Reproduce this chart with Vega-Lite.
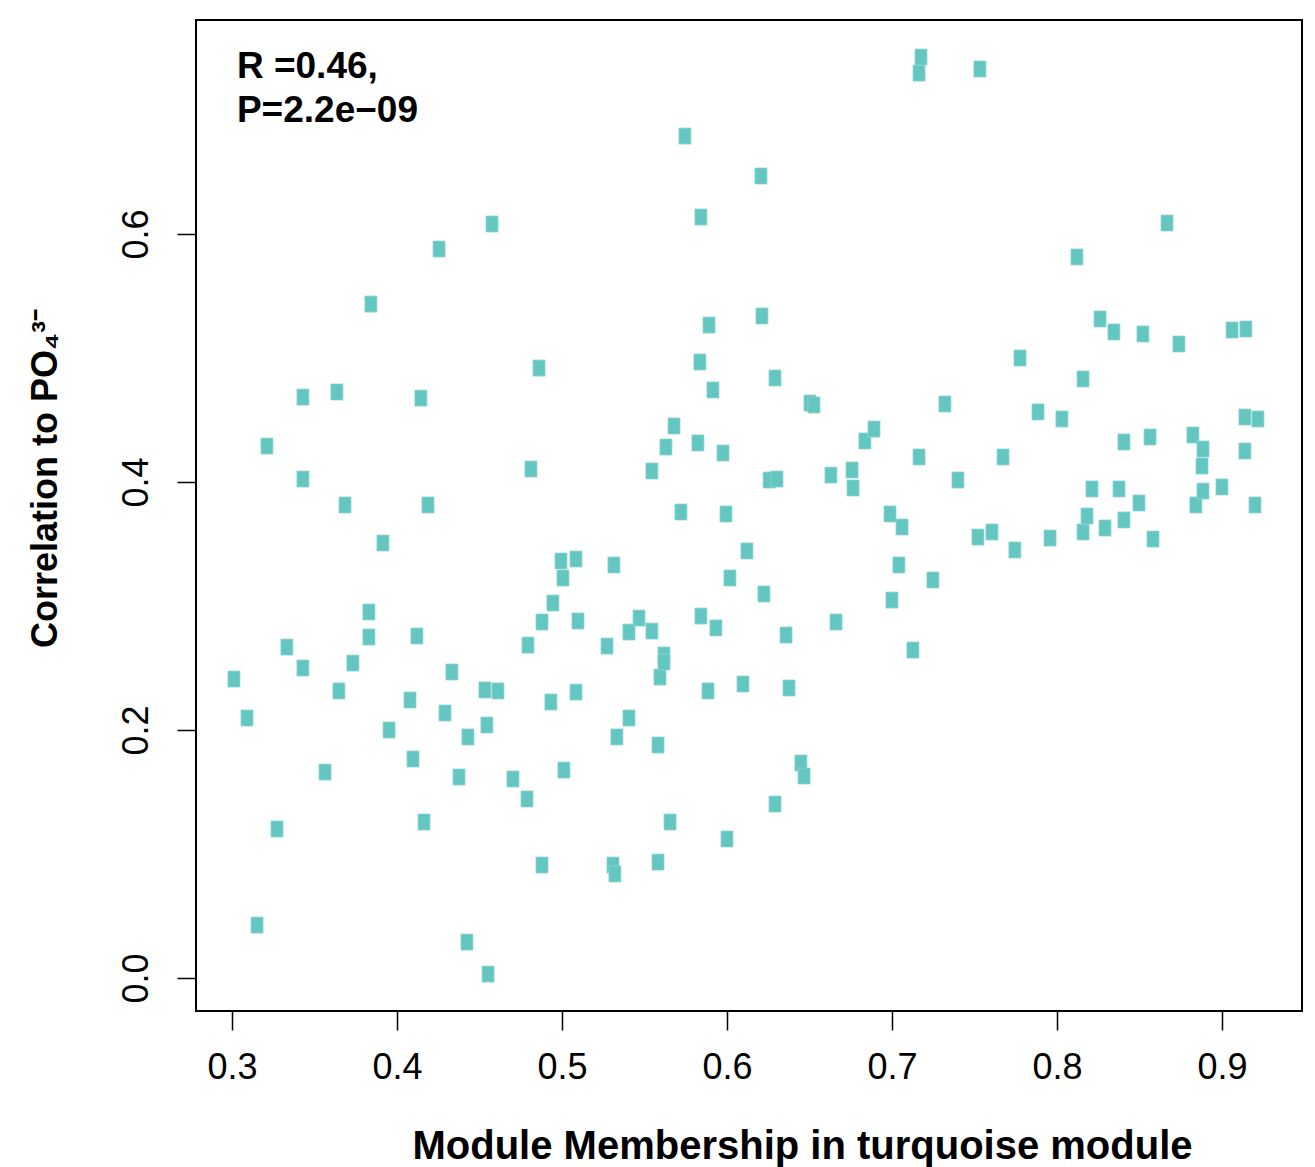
{
  "$schema": "https://vega.github.io/schema/vega-lite/v6.json",
  "width": 1106,
  "height": 991,
  "autosize": {"type": "none"},
  "padding": {"left": 196, "top": 20, "right": 13, "bottom": 156},
  "background": "white",
  "config": {"view": {"stroke": "black", "strokeWidth": 2}, "font": "Liberation Sans"},
  "datasets": {
    "pts": [
      {"mm":0.3012,"cor":0.2411},{"mm":0.3091,"cor":0.2097},{"mm":0.3152,"cor":0.0427},{"mm":0.3212,"cor":0.4290},
      {"mm":0.3273,"cor":0.1202},{"mm":0.3333,"cor":0.2669},{"mm":0.3430,"cor":0.4685},{"mm":0.3430,"cor":0.4024},
      {"mm":0.3430,"cor":0.2500},{"mm":0.3564,"cor":0.1661},{"mm":0.3636,"cor":0.4726},{"mm":0.3648,"cor":0.2315},
      {"mm":0.3685,"cor":0.3815},{"mm":0.3733,"cor":0.2540},{"mm":0.3830,"cor":0.2952},{"mm":0.3830,"cor":0.2750},
      {"mm":0.3842,"cor":0.5435},{"mm":0.3915,"cor":0.3508},{"mm":0.3952,"cor":0.2000},{"mm":0.4079,"cor":0.2242},
      {"mm":0.4097,"cor":0.1766},{"mm":0.4121,"cor":0.2758},{"mm":0.4145,"cor":0.4677},{"mm":0.4164,"cor":0.1258},
      {"mm":0.4188,"cor":0.3815},{"mm":0.4255,"cor":0.5879},{"mm":0.4291,"cor":0.2137},{"mm":0.4333,"cor":0.2468},
      {"mm":0.4376,"cor":0.1621},{"mm":0.4424,"cor":0.0290},{"mm":0.4430,"cor":0.1944},{"mm":0.4533,"cor":0.2323},
      {"mm":0.4545,"cor":0.2040},{"mm":0.4552,"cor":0.0032},{"mm":0.4576,"cor":0.6081},{"mm":0.4612,"cor":0.2315},
      {"mm":0.4703,"cor":0.1605},{"mm":0.4788,"cor":0.1444},{"mm":0.4794,"cor":0.2685},{"mm":0.4812,"cor":0.4105},
      {"mm":0.4861,"cor":0.4919},{"mm":0.4879,"cor":0.2871},{"mm":0.4879,"cor":0.0911},{"mm":0.4933,"cor":0.2226},
      {"mm":0.4945,"cor":0.3024},{"mm":0.4994,"cor":0.3363},{"mm":0.5006,"cor":0.3226},{"mm":0.5012,"cor":0.1677},
      {"mm":0.5085,"cor":0.3379},{"mm":0.5085,"cor":0.2306},{"mm":0.5097,"cor":0.2879},{"mm":0.5273,"cor":0.2677},
      {"mm":0.5309,"cor":0.0911},{"mm":0.5315,"cor":0.3331},{"mm":0.5321,"cor":0.0839},{"mm":0.5333,"cor":0.1944},
      {"mm":0.5406,"cor":0.2097},{"mm":0.5406,"cor":0.2790},{"mm":0.5467,"cor":0.2903},{"mm":0.5545,"cor":0.4089},
      {"mm":0.5545,"cor":0.2798},{"mm":0.5582,"cor":0.1879},{"mm":0.5582,"cor":0.0935},{"mm":0.5594,"cor":0.2427},
      {"mm":0.5618,"cor":0.2605},{"mm":0.5618,"cor":0.2548},{"mm":0.5630,"cor":0.4282},{"mm":0.5655,"cor":0.1258},
      {"mm":0.5679,"cor":0.4452},{"mm":0.5721,"cor":0.3758},{"mm":0.5745,"cor":0.6790},{"mm":0.5824,"cor":0.4315},
      {"mm":0.5836,"cor":0.4968},{"mm":0.5842,"cor":0.2919},{"mm":0.5842,"cor":0.6137},{"mm":0.5885,"cor":0.2315},
      {"mm":0.5891,"cor":0.5266},{"mm":0.5915,"cor":0.4742},{"mm":0.5933,"cor":0.2823},{"mm":0.5976,"cor":0.4234},
      {"mm":0.5994,"cor":0.3742},{"mm":0.6000,"cor":0.1121},{"mm":0.6018,"cor":0.3226},{"mm":0.6097,"cor":0.2371},
      {"mm":0.6121,"cor":0.3444},{"mm":0.6206,"cor":0.6468},{"mm":0.6212,"cor":0.5339},{"mm":0.6224,"cor":0.3097},
      {"mm":0.6255,"cor":0.4016},{"mm":0.6303,"cor":0.4024},{"mm":0.6291,"cor":0.4839},{"mm":0.6291,"cor":0.1403},
      {"mm":0.6358,"cor":0.2766},{"mm":0.6376,"cor":0.2339},{"mm":0.6448,"cor":0.1734},{"mm":0.6467,"cor":0.1629},
      {"mm":0.6503,"cor":0.4637},{"mm":0.6527,"cor":0.4621},{"mm":0.6630,"cor":0.4056},{"mm":0.6661,"cor":0.2871},
      {"mm":0.6758,"cor":0.4097},{"mm":0.6764,"cor":0.3952},{"mm":0.6836,"cor":0.4331},{"mm":0.6891,"cor":0.4427},
      {"mm":0.6988,"cor":0.3742},{"mm":0.7000,"cor":0.3048},{"mm":0.7042,"cor":0.3331},{"mm":0.7061,"cor":0.3637},
      {"mm":0.7127,"cor":0.2645},{"mm":0.7164,"cor":0.4202},{"mm":0.7164,"cor":0.7298},{"mm":0.7176,"cor":0.7427},
      {"mm":0.7248,"cor":0.3210},{"mm":0.7321,"cor":0.4629},{"mm":0.7400,"cor":0.4016},{"mm":0.7533,"cor":0.7331},
      {"mm":0.7521,"cor":0.3556},{"mm":0.7606,"cor":0.3597},{"mm":0.7673,"cor":0.4202},{"mm":0.7745,"cor":0.3452},
      {"mm":0.7776,"cor":0.5000},{"mm":0.7885,"cor":0.4565},{"mm":0.7958,"cor":0.3548},{"mm":0.8030,"cor":0.4508},
      {"mm":0.8121,"cor":0.5815},{"mm":0.8158,"cor":0.4831},{"mm":0.8158,"cor":0.3597},{"mm":0.8182,"cor":0.3726},
      {"mm":0.8212,"cor":0.3944},{"mm":0.8261,"cor":0.5315},{"mm":0.8291,"cor":0.3629},{"mm":0.8345,"cor":0.5210},
      {"mm":0.8376,"cor":0.3944},{"mm":0.8406,"cor":0.4323},{"mm":0.8406,"cor":0.3694},{"mm":0.8497,"cor":0.3831},
      {"mm":0.8521,"cor":0.5194},{"mm":0.8564,"cor":0.4363},{"mm":0.8582,"cor":0.3540},{"mm":0.8667,"cor":0.6089},
      {"mm":0.8739,"cor":0.5113},{"mm":0.8824,"cor":0.4379},{"mm":0.8842,"cor":0.3815},{"mm":0.8885,"cor":0.4266},
      {"mm":0.8879,"cor":0.4129},{"mm":0.8885,"cor":0.3927},{"mm":0.9000,"cor":0.3960},{"mm":0.9061,"cor":0.5226},
      {"mm":0.9145,"cor":0.5234},{"mm":0.9139,"cor":0.4524},{"mm":0.9139,"cor":0.4250},{"mm":0.9200,"cor":0.3815},
      {"mm":0.9218,"cor":0.4508}
    ],
    "ann": [{"x": 0.303, "y": 0.7258, "label": "R =0.46,\nP=2.2e−09"}]
  },
  "layer": [
    {
      "data": {"name": "pts"},
      "mark": {"type": "point", "shape": "M-0.75,-1L0.75,-1L0.75,1L-0.75,1Z", "size": 256, "filled": true, "color": "#63C6C1", "opacity": 1, "stroke": "#8fd6d2", "strokeWidth": 0.8},
      "encoding": {
        "x": {
          "field": "mm", "type": "quantitative",
          "scale": {"domain": [0.2782, 0.9485], "nice": false, "zero": false},
          "axis": {
            "title": "Module Membership in turquoise module",
            "values": [0.3, 0.4, 0.5, 0.6, 0.7, 0.8, 0.9],
            "format": ".1f",
            "domain": false, "grid": false,
            "ticks": true, "tickSize": 19, "tickWidth": 1.5, "tickColor": "black",
            "labelFontSize": 36, "labelColor": "black", "labelPadding": 20, "labelFlush": false, "labelOverlap": false,
            "labelFont": "Liberation Sans",
            "titleFont": "Liberation Sans", "titleFontSize": 40, "titleFontWeight": "bold", "titleColor": "black",
            "titleX": 606, "titleY": 147, "titleAlign": "center", "titleBaseline": "alphabetic"
          }
        },
        "y": {
          "field": "cor", "type": "quantitative",
          "scale": {"domain": [-0.0266, 0.7726], "nice": false, "zero": false},
          "axis": {
            "title": "Correlation to PO₄³⁻",
            "values": [0, 0.2, 0.4, 0.6],
            "format": ".1f",
            "domain": false, "grid": false,
            "ticks": true, "tickSize": 19, "tickWidth": 1.5, "tickColor": "black",
            "labelFontSize": 36, "labelColor": "black", "labelPadding": 22, "labelFlush": false, "labelOverlap": false,
            "labelAngle": 270, "labelAlign": "center", "labelBaseline": "bottom",
            "labelFont": "Liberation Sans",
            "titleFont": "Liberation Sans", "titleFontSize": 36, "titleFontWeight": "bold", "titleColor": "black",
            "titleAngle": 270, "titleX": -151, "titleY": 458, "titleAlign": "center", "titleBaseline": "middle"
          }
        }
      }
    },
    {
      "data": {"name": "ann"},
      "mark": {"type": "text", "align": "left", "baseline": "alphabetic", "fontSize": 37, "fontWeight": "bold", "lineHeight": 44, "color": "black", "lineBreak": "\n", "font": "Liberation Sans"},
      "encoding": {
        "x": {"field": "x", "type": "quantitative"},
        "y": {"field": "y", "type": "quantitative"},
        "text": {"field": "label"}
      }
    }
  ]
}
